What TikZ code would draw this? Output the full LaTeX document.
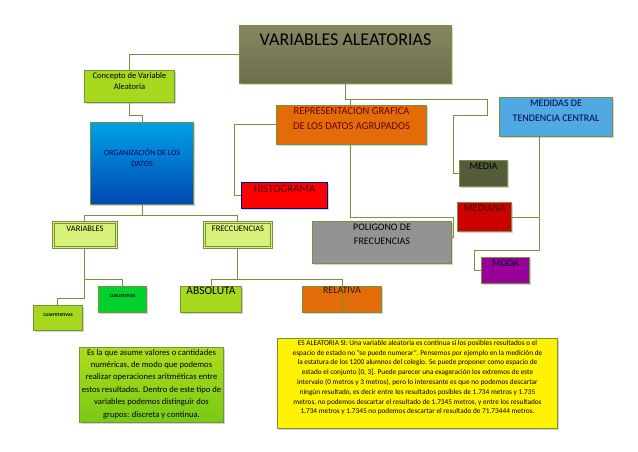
\documentclass[tikz,border=0pt]{standalone}
\usepackage{fontspec}
\setmainfont{Carlito}
\usetikzlibrary{shadows}
\definecolor{ln}{HTML}{76923C}
\definecolor{lime}{HTML}{A6D81E}
\definecolor{lightlime}{HTML}{D7F27A}
\definecolor{orng}{HTML}{E36C09}
\definecolor{ttop}{HTML}{868660}
\definecolor{tbot}{HTML}{6E6E4E}
\tikzset{
  box/.style={draw=ln, line width=1pt, rectangle, anchor=north west, inner sep=0pt,
    drop shadow={shadow xshift=1.5pt, shadow yshift=-1.5pt, opacity=0.35}},
  conn/.style={draw=ln, line width=0.9pt},
  lab/.style={anchor=north, align=center, inner sep=0pt, font=\fontsize{8.5}{10}\selectfont},
}
\newcommand{\bx}[6]{% name, x, y, w, h, style
  \node[box,#6, minimum width=#4pt, minimum height=#5pt] (#1) at (#2,#3) {};}
\begin{document}
\begin{tikzpicture}[x=1pt,y=-1pt]
\useasboundingbox (0,0) rectangle (638,452);
\coordinate (c2) at (234,124);
\bx{title}{239}{25}{212}{58}{top color=ttop, bottom color=tbot}
\bx{conc}{84}{70}{90}{32}{fill=lime}
\bx{org}{90}{122}{103}{82}{top color=blue!30!cyan!90!black, bottom color=blue!60!cyan!70!black}
\bx{vars}{53}{222}{63}{25}{fill=lightlime, double=lightlime, double distance=1pt}
\bx{frec}{204}{222}{67}{25}{fill=lightlime, double=lightlime, double distance=1pt}
\bx{cuant}{33}{305}{49}{25}{fill=lime}
\bx{cual}{98}{286}{48}{26}{fill=green!65!teal}
\bx{abs}{180}{286}{61}{26}{fill=lime}
\bx{rel}{302}{286}{79}{26}{fill=orng}
\bx{rep}{276}{105}{150}{39}{fill=orng}
\bx{hist}{241}{182}{86}{26}{fill=red, draw=blue!60!black}
\bx{pol}{312}{221}{139}{42}{fill=gray!85}
\bx{med}{499}{97}{113}{39}{fill=cyan!75!blue!70}
\bx{media}{459}{160}{48}{26}{fill=olive!60!green!45!black}
\bx{mediana}{457}{202}{54}{29}{fill=red!80!black}
\bx{moda}{481}{257}{48}{26}{fill=violet!80!magenta}
\bx{gtxt}{79}{347}{144}{75}{top color=lime!90!yellow, bottom color=lime!80!green!90!black}
\bx{ytxt}{277}{338}{280}{90}{fill=yellow}
% connectors
\draw[conn] (title.west |- 0,54) -| (conc.north -| 129,0);
\draw[conn] (conc.south -| 129,0) |- (142,115) -- (org.north -| 142,0);
\draw[conn] (org.south -| 142,0) -- (142,215);
\draw[conn] (84,215) -- (237,215);
\draw[conn] (84,215) -- (vars.north -| 84,0);
\draw[conn] (237,215) -- (frec.north -| 237,0);
\draw[conn] (vars.south -| 84,0) |- (57,298) -- (cuant.north -| 57,0);
\draw[conn] (84,279) -| (cual.north -| 122,0);
\draw[conn] (frec.south -| 237,0) |- (211,279) -- (abs.north -| 211,0);
\draw[conn] (237,279) -| (rel.south -| 342,0);
\draw[conn] (title.south -| 345,0) |- (487,99) |- (453,115) |- (media.west |- 0,173);
\draw[conn] (345,99) -| (rep.north -| 350,0);
\draw[conn] (rep.west |- 0,124) -| (c2) |- (hist.west |- 0,195);
\draw[conn] (rep.south -| 350,0) |- (453,217) |- (pol.east |- 0,237);
\draw[conn] (med.south -| 539,0) |- (474,250) |- (moda.west |- 0,270);
\draw[conn] (mediana.east |- 0,217) -- (539,217);
% labels
\node[lab, font=\fontsize{18}{20}\selectfont] at ([yshift=-9pt]title.north) {VARIABLES ALEATORIAS};
\node[lab, font=\fontsize{8.5}{11}\selectfont] at ([yshift=-2pt]conc.north) {Concepto de Variable\\Aleatoria};
\node[lab, font=\fontsize{8}{11}\selectfont, text=blue!40!black] at ([yshift=-27pt]org.north) {ORGANIZACIÓN DE LOS\\DATOS};
\node[lab] at ([yshift=-4pt]vars.north) {VARIABLES};
\node[lab] at ([yshift=-4pt]frec.north) {FRECCUENCIAS};
\node[lab, font=\fontsize{4.5}{5}\selectfont\bfseries] at ([yshift=-8pt]cuant.north) {CUANTITATIVAS};
\node[lab, font=\fontsize{4.5}{5}\selectfont\bfseries] at ([yshift=-8pt]cual.north) {CUALITATIVAS};
\node[lab, font=\fontsize{11.5}{13}\selectfont] at ([yshift=-1pt]abs.north) {ABSOLUTA};
\node[lab, font=\fontsize{10}{12}\selectfont, text=black!80!orng] at ([yshift=-1pt]rel.north) {RELATIVA};
\node[lab, font=\fontsize{10.5}{15}\selectfont, text=red!40!black] at ([yshift=-2pt]rep.north) {REPRESENTACION GRAFICA\\DE LOS DATOS AGRUPADOS};
\node[lab, font=\fontsize{11}{12}\selectfont, text=red!30!black] at ([yshift=-3pt]hist.north) {HISTOGRAMA};
\node[lab, font=\fontsize{10}{14}\selectfont] at ([yshift=-3pt]pol.north) {POLIGONO DE\\FRECUENCIAS};
\node[lab, font=\fontsize{10}{15}\selectfont, text=blue!30!black] at ([yshift=-3pt]med.north) {MEDIDAS DE\\TENDENCIA CENTRAL};
\node[lab, font=\fontsize{10}{12}\selectfont] at ([yshift=-3pt]media.north) {MEDIA};
\node[lab, font=\fontsize{10.5}{12}\selectfont, text=red!30!black] at ([yshift=-3pt]mediana.north) {MEDIANA};
\node[lab, font=\fontsize{10}{12}\selectfont, text=blue!20!black] at ([yshift=-3pt]moda.north) {MODA};
\node[lab, font=\fontsize{8.6}{12.4}\selectfont] at ([yshift=-2pt]gtxt.north) {Es la que asume valores o cantidades\\numéricas, de modo que podemos\\realizar operaciones aritméticas entre\\estos resultados. Dentro de este tipo de\\variables podemos distinguir dos\\grupos: discreta y continua.};
\node[lab, font=\fontsize{7.3}{9.8}\selectfont] at ([yshift=-2pt]ytxt.north) {ES ALEATORIA SI: Una variable aleatoria es continua si los posibles resultados o el\\espacio de estado no "se puede numerar". Pensemos por ejemplo en la medición de\\la estatura de los 1200 alumnos del colegio. Se puede proponer como espacio de\\estado el conjunto [0, 3]. Puede parecer una exageración los extremos de este\\intervalo (0 metros y 3 metros), pero lo interesante es que no podemos descartar\\ningún resultado, es decir entre los resultados posibles de 1.734 metros y 1.735\\metros, no podemos descartar el resultado de 1.7345 metros, y entre los resultados\\1.734 metros y 1.7345 no podemos descartar el resultado de 71.73444 metros.};
\end{tikzpicture}
\end{document}
